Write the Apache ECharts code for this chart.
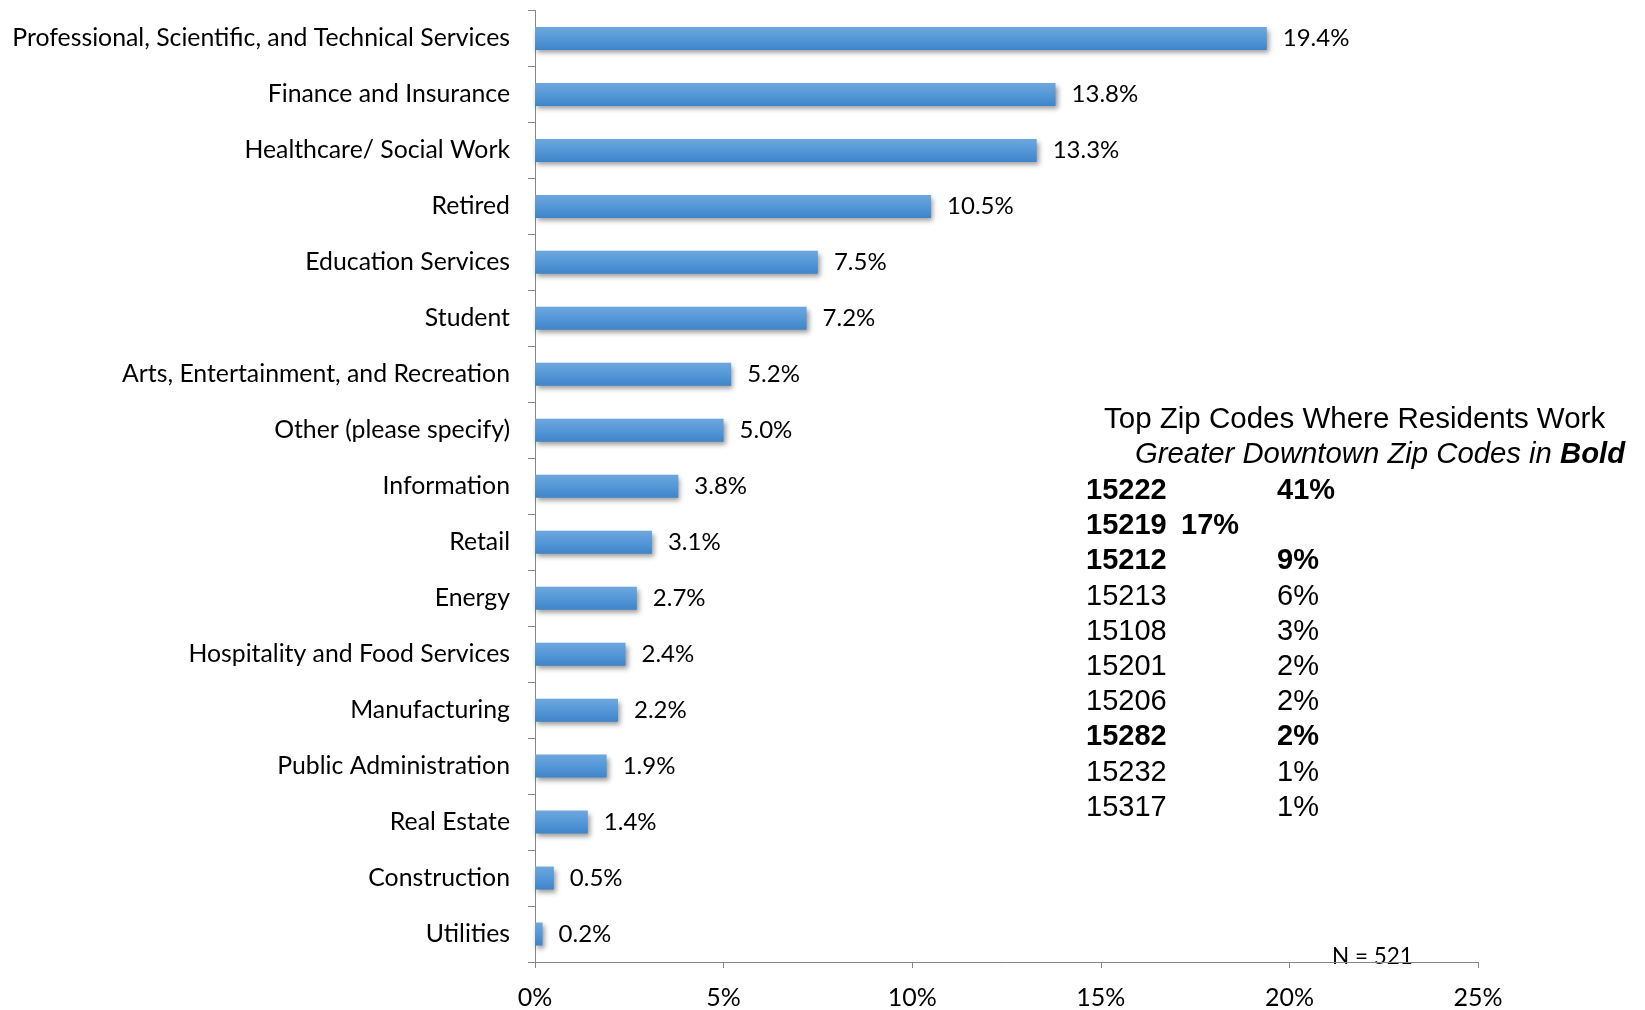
<!DOCTYPE html>
<html style="height: 100%">
<head>
    <meta charset="utf-8">
</head>
<body style="height: 100%; margin: 0; background: #fff">
<div id="container" style="width: 1645px; height: 1010px"></div>
<script type="text/javascript" src="https://cdn.jsdelivr.net/npm/echarts@6.0.0/dist/echarts.min.js"></script>
<script type="text/javascript">
  // industries, top to bottom
  const categories = [
    'Professional, Scientific, and Technical Services',
    'Finance and Insurance',
    'Healthcare/ Social Work',
    'Retired',
    'Education Services',
    'Student',
    'Arts, Entertainment, and Recreation',
    'Other (please specify)',
    'Information',
    'Retail',
    'Energy',
    'Hospitality and Food Services',
    'Manufacturing',
    'Public Administration',
    'Real Estate',
    'Construction',
    'Utilities'
  ];
  const shares = [19.4, 13.8, 13.3, 10.5, 7.5, 7.2, 5.2, 5.0, 3.8, 3.1, 2.7, 2.4, 2.2, 1.9, 1.4, 0.5, 0.2];

  // side box: top zip codes
  const zipCodes = ['15222', '15219', '15212', '15213', '15108', '15201', '15206', '15282', '15232', '15317'];
  const zipShares = ['41%', '17%', '9%', '6%', '3%', '2%', '2%', '2%', '1%', '1%'];
  const zipBold = [true, true, true, false, false, false, false, true, false, false];

  const labelFont = 'Lato, "Noto Sans", sans-serif';
  const boxFont = '"Liberation Sans", Arial, sans-serif';
  const axisGrey = '#868686';

  var dom = document.getElementById('container');
  var myChart = echarts.init(dom);

  // zip table as graphic texts
  const graphics = [
    {
      type: 'text', x: 1104, y: 420,
      style: { text: 'Top Zip Codes Where Residents Work', font: '29.5px ' + boxFont, fill: '#000', verticalAlign: 'middle' }
    },
    {
      type: 'text', x: 1135, y: 455,
      style: { text: 'Greater Downtown Zip Codes in {b|Bold}', font: 'italic 29.3px ' + boxFont, fill: '#000', verticalAlign: 'middle',
        rich: { b: { fontStyle: 'italic', fontWeight: 'bold', fontSize: 29.3, fontFamily: boxFont } } }
    }
  ];
  zipCodes.forEach((zip, i) => {
    const y = 491 + i * 35.2;
    const weight = zipBold[i] ? 'bold ' : '';
    graphics.push({
      type: 'text', x: 1086, y: y,
      style: { text: zip, font: weight + '29px ' + boxFont, fill: '#000', verticalAlign: 'middle' }
    });
    graphics.push({
      type: 'text', x: i === 1 ? 1181 : 1277, y: y,
      style: { text: zipShares[i], font: weight + '29px ' + boxFont, fill: '#000', verticalAlign: 'middle' }
    });
  });
  graphics.push({
    type: 'text', x: 1332, y: 957,
    style: { text: 'N = 521', font: '22.5px ' + labelFont, fill: '#000', verticalAlign: 'middle' }
  });

  var option = {
    animation: false,
    backgroundColor: '#fff',
    grid: { left: 535, right: 167, top: 10.5, bottom: 47, containLabel: false },
    xAxis: {
      type: 'value',
      min: 0,
      max: 25,
      interval: 5,
      splitLine: { show: false },
      axisLine: { show: true, lineStyle: { color: axisGrey, width: 1 } },
      axisTick: { show: true, length: 6, lineStyle: { color: axisGrey } },
      axisLabel: { formatter: '{value}%', margin: 23, fontSize: 25, fontFamily: labelFont, color: '#000' }
    },
    yAxis: {
      type: 'category',
      inverse: true,
      data: categories,
      axisLine: { show: true, lineStyle: { color: axisGrey, width: 1 } },
      axisTick: { show: true, length: 7, lineStyle: { color: axisGrey } },
      axisLabel: { margin: 25, fontSize: 24.8, fontFamily: labelFont, color: '#000', padding: [3, 0, 0, 0] }
    },
    series: [
      {
        type: 'bar',
        data: shares,
        barWidth: 23,
        itemStyle: {
          color: new echarts.graphic.LinearGradient(0, 0, 0, 1, [
            { offset: 0, color: '#6ea7dd' },
            { offset: 0.5, color: '#5498d8' },
            { offset: 1, color: '#3e84c8' }
          ]),
          shadowColor: 'rgba(0, 0, 0, 0.4)',
          shadowBlur: 5,
          shadowOffsetX: 2,
          shadowOffsetY: 3
        },
        label: {
          show: true,
          position: 'right',
          distance: 16,
          formatter: p => p.value.toFixed(1) + '%',
          fontSize: 24,
          fontFamily: labelFont,
          color: '#000',
          padding: [3, 0, 0, 0]
        }
      }
    ],
    graphic: graphics
  };
  myChart.setOption(option);
</script>
</body>
</html>
